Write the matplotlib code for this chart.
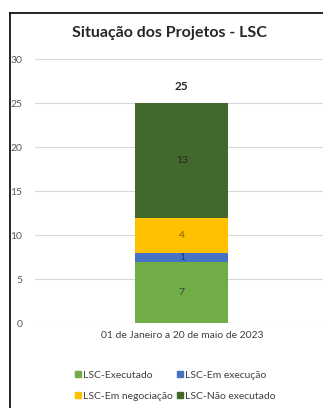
import matplotlib.pyplot as plt
from matplotlib.lines import Line2D
from matplotlib.patches import Patch

plt.rcParams['font.family'] = ['Lato', 'DejaVu Sans']

periodo = "01 de Janeiro a 20 de maio de 2023"
series = ["LSC-Executado", "LSC-Em execução", "LSC-Em negociação", "LSC-Não executado"]
valores = [7, 1, 4, 13]
cores = ["#70AD47", "#4472C4", "#FFC000", "#43682B"]
cores_txt = ["#404040", "#1F3864", "#7F6000", "#262626"]

fig = plt.figure(figsize=(3.23, 4.08), dpi=100)
ax = fig.add_axes([0.108, 0.208, 0.892, 0.647])

base = 0
for v, c, ct, nome in zip(valores, cores, cores_txt, series):
    ax.bar(0, v, bottom=base, width=0.323, color=c, label=nome, zorder=3)
    ax.text(0, base + v / 2, str(v), ha='center', va='center', fontsize=7.5, color=ct, zorder=4)
    base += v

total = sum(valores)
ax.text(0, total + 1.9, str(total), ha='center', va='center', fontsize=8.5, fontweight='bold', color='#262626')

ax.set_xlim(-0.51, 0.49)
ax.set_ylim(0, 30)
ax.set_yticks(range(0, 31, 5))
ax.set_xticks([0])
ax.set_xticklabels([periodo])
ax.tick_params(axis='y', length=0, labelsize=7.5, labelcolor='#595959', pad=9)
ax.tick_params(axis='x', length=0, labelsize=7.5, labelcolor='#404040', pad=6)
ax.grid(axis='y', color='#D9D9D9', linewidth=0.8, zorder=0)
for s in ax.spines.values():
    s.set_visible(False)

fig.text(0.526, 0.918, "Situação dos Projetos - LSC", ha='center', va='center',
         fontsize=11.5, fontweight='bold', color='#262626')

# legenda preenchida por linha: ordem das colunas trocada
ordem = [0, 2, 1, 3]
handles = [Patch(color=cores[i]) for i in ordem]
labels = [series[i] for i in ordem]
fig.legend(handles, labels, loc='center', bbox_to_anchor=(0.543, 0.054), ncol=2,
           frameon=False, fontsize=7.5, handlelength=0.55, handleheight=0.55,
           handletextpad=0.25, columnspacing=0.35, labelspacing=1.15,
           labelcolor='#404040')

# moldura do gráfico
fig.add_artist(Line2D([9.5 / 323, 9.5 / 323], [0, 1 - 13 / 408], transform=fig.transFigure, color='black', lw=1.2))
fig.add_artist(Line2D([9.5 / 323, 1], [1 - 13 / 408, 1 - 13 / 408], transform=fig.transFigure, color='black', lw=1.2))

fig.savefig("out.png", dpi=100)
